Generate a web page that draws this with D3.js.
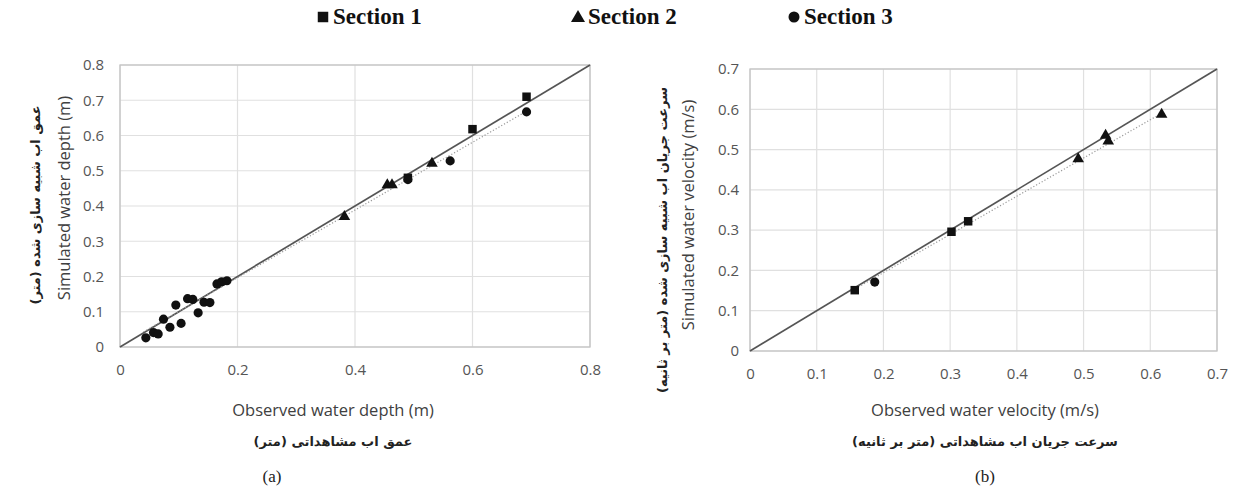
<!DOCTYPE html>
<html>
<head>
<meta charset="utf-8">
<script src="https://cdn.jsdelivr.net/npm/d3@7/dist/d3.min.js"></script>
<style>
  html, body { margin: 0; padding: 0; background: #fff; }
  svg { display: block; }
</style>
</head>
<body>
<svg id="chart" width="1235" height="493"></svg>
<script>
// ---------- DATA ----------
const legendLabels = ["Section 1", "Section 2", "Section 3"];

// (a) water depth (m): observed / simulated
const depthObs1 = [0.490, 0.600, 0.692];
const depthSim1 = [0.480, 0.618, 0.710];
const depthObs2 = [0.382, 0.455, 0.463, 0.531];
const depthSim2 = [0.370, 0.460, 0.460, 0.521];
const depthObs3 = [0.044, 0.057, 0.065, 0.074, 0.085, 0.095, 0.104, 0.115, 0.124, 0.133, 0.143, 0.153, 0.165, 0.173, 0.182, 0.490, 0.562, 0.692];
const depthSim3 = [0.026, 0.041, 0.037, 0.079, 0.056, 0.119, 0.067, 0.137, 0.135, 0.097, 0.127, 0.126, 0.179, 0.185, 0.188, 0.475, 0.528, 0.667];
const depthTrendObs = [0.04, 0.69];
const depthTrendSim = [0.043, 0.667];
const depthTicks = [0, 0.2, 0.4, 0.6, 0.8];
const depthYTicks = [0, 0.1, 0.2, 0.3, 0.4, 0.5, 0.6, 0.7, 0.8];

// (b) water velocity (m/s): observed / simulated
const velObs1 = [0.157, 0.302, 0.327];
const velSim1 = [0.151, 0.296, 0.322];
const velObs2 = [0.492, 0.533, 0.537, 0.617];
const velSim2 = [0.477, 0.535, 0.521, 0.587];
const velObs3 = [0.187];
const velSim3 = [0.171];
const velTrendObs = [0.15, 0.62];
const velTrendSim = [0.147, 0.593];
const velTicks = [0, 0.1, 0.2, 0.3, 0.4, 0.5, 0.6, 0.7];

// ---------- DRAWING ----------
const svg = d3.select("#chart");
const tickFont = "'Open Sans', sans-serif";
const faFont = "'DejaVu Sans', sans-serif";

function zip(a, b) { return a.map((v, i) => [v, b[i]]); }

function drawPanel(cfg) {
  const x = d3.scaleLinear().domain(cfg.domain).range([cfg.left, cfg.right]);
  const y = d3.scaleLinear().domain(cfg.domain).range([cfg.bottom, cfg.top]);
  const g = svg.append("g");

  // gridlines
  g.append("g").selectAll("line").data(cfg.xTicks).join("line")
    .attr("x1", d => x(d)).attr("x2", d => x(d))
    .attr("y1", cfg.top).attr("y2", cfg.bottom)
    .attr("stroke", "#e0e0e0").attr("stroke-width", 1.2);
  g.append("g").selectAll("line").data(cfg.yTicks).join("line")
    .attr("x1", cfg.left).attr("x2", cfg.right)
    .attr("y1", d => y(d)).attr("y2", d => y(d))
    .attr("stroke", "#e0e0e0").attr("stroke-width", 1.2);
  // frame
  g.append("rect").attr("x", cfg.left).attr("y", cfg.top)
    .attr("width", cfg.right - cfg.left).attr("height", cfg.bottom - cfg.top)
    .attr("fill", "none").attr("stroke", "#c4c4c4").attr("stroke-width", 1.3);

  // axes (labels only)
  const xAxis = d3.axisBottom(x).tickValues(cfg.xTicks).tickFormat(d3.format("~g")).tickSize(0).tickPadding(cfg.xPad);
  const yAxis = d3.axisLeft(y).tickValues(cfg.yTicks).tickFormat(d3.format("~g")).tickSize(0).tickPadding(cfg.yPad);
  const xa = g.append("g").attr("transform", `translate(0,${cfg.bottom})`).call(xAxis);
  const ya = g.append("g").attr("transform", `translate(${cfg.left},0)`).call(yAxis);
  [xa, ya].forEach(a => {
    a.select(".domain").remove();
    a.selectAll("text").attr("font-family", tickFont).attr("font-size", 15).attr("fill", "#555");
  });

  // 1:1 line
  g.append("line")
    .attr("x1", x(cfg.domain[0])).attr("y1", y(cfg.domain[0]))
    .attr("x2", x(cfg.domain[1])).attr("y2", y(cfg.domain[1]))
    .attr("stroke", "#555").attr("stroke-width", 1.7);
  // trend line (dotted)
  const tl = zip(cfg.trendObs, cfg.trendSim);
  g.append("line")
    .attr("x1", x(tl[0][0])).attr("y1", y(tl[0][1]))
    .attr("x2", x(tl[1][0])).attr("y2", y(tl[1][1]))
    .attr("stroke", "#9a9a9a").attr("stroke-width", 1.2).attr("stroke-dasharray", "1.2,2");

  // points
  const series = [
    { pts: zip(cfg.obs1, cfg.sim1), type: d3.symbolSquare, size: 72 },
    { pts: zip(cfg.obs2, cfg.sim2), type: d3.symbolTriangle, size: 58 },
    { pts: zip(cfg.obs3, cfg.sim3), type: d3.symbolCircle, size: 66 }
  ];
  series.forEach(s => {
    g.append("g").selectAll("path").data(s.pts).join("path")
      .attr("d", d3.symbol().type(s.type).size(s.size))
      .attr("transform", d => `translate(${x(d[0])},${y(d[1])})`)
      .attr("fill", "#111");
  });

  // axis titles
  g.append("text").attr("x", cfg.xTitleX).attr("y", cfg.xTitleY)
    .attr("text-anchor", "middle").attr("font-family", tickFont).attr("font-size", 16.5)
    .attr("fill", "#404040").text(cfg.xTitle);
  g.append("text").attr("x", cfg.xTitleX).attr("y", cfg.xTitleY + 30)
    .attr("text-anchor", "middle").attr("font-family", faFont).attr("font-size", 13)
    .attr("font-weight", "bold").attr("fill", "#222").attr("direction", "rtl")
    .text(cfg.xTitleFa);
  g.append("text").attr("transform", `translate(${cfg.yTitleX},${cfg.yTitleY}) rotate(-90)`)
    .attr("text-anchor", "middle").attr("font-family", tickFont).attr("font-size", 16.5)
    .attr("fill", "#404040").text(cfg.yTitle);
  g.append("text").attr("transform", `translate(${cfg.yTitleFaX},${cfg.yTitleFaY}) rotate(-90)`)
    .attr("text-anchor", "middle").attr("font-family", faFont).attr("font-size", 13)
    .attr("font-weight", "bold").attr("fill", "#222").attr("direction", "rtl")
    .text(cfg.yTitleFa);
  // panel letter
  g.append("text").attr("x", cfg.letterX).attr("y", 482)
    .attr("text-anchor", "middle").attr("font-family", "'Liberation Serif', serif").attr("font-size", 17)
    .attr("fill", "#222").text(cfg.letter);
}

drawPanel({
  domain: [0, 0.8], left: 120, right: 590, top: 65, bottom: 347,
  xTicks: depthTicks, yTicks: depthYTicks, xPad: 17, yPad: 16,
  obs1: depthObs1, sim1: depthSim1, obs2: depthObs2, sim2: depthSim2, obs3: depthObs3, sim3: depthSim3,
  trendObs: depthTrendObs, trendSim: depthTrendSim,
  xTitle: "Observed water depth (m)", xTitleFa: "عمق اب مشاهداتی (متر)",
  xTitleX: 333, xTitleY: 416,
  yTitle: "Simulated water depth (m)", yTitleFa: "عمق اب شبیه سازی شده (متر)",
  yTitleX: 70, yTitleY: 198, yTitleFaX: 40, yTitleFaY: 205,
  letter: "(a)", letterX: 272
});

drawPanel({
  domain: [0, 0.7], left: 750, right: 1217, top: 69, bottom: 351,
  xTicks: velTicks, yTicks: velTicks, xPad: 17, yPad: 11,
  obs1: velObs1, sim1: velSim1, obs2: velObs2, sim2: velSim2, obs3: velObs3, sim3: velSim3,
  trendObs: velTrendObs, trendSim: velTrendSim,
  xTitle: "Observed water velocity (m/s)", xTitleFa: "سرعت جریان اب مشاهداتی (متر بر ثانیه)",
  xTitleX: 985, xTitleY: 416,
  yTitle: "Simulated water velocity (m/s)", yTitleFa: "سرعت جریان اب شبیه سازی شده (متر بر ثانیه)",
  yTitleX: 694, yTitleY: 215, yTitleFaX: 667, yTitleFaY: 240,
  letter: "(b)", letterX: 985
});

// ---------- LEGEND ----------
const legendX = [323, 578, 794];
const legendTypes = [d3.symbolSquare, d3.symbolTriangle, d3.symbolCircle];
const legendSizes = [110, 85, 95];
const lg = svg.append("g");
legendLabels.forEach((lab, i) => {
  lg.append("path").attr("d", d3.symbol().type(legendTypes[i]).size(legendSizes[i]))
    .attr("transform", `translate(${legendX[i]},${i === 1 ? 18 : 17})`).attr("fill", "#111");
  lg.append("text").attr("x", legendX[i] + 10).attr("y", 24)
    .attr("font-family", "'Liberation Serif', serif").attr("font-weight", "bold")
    .attr("font-size", 23).attr("fill", "#111").text(lab);
});
</script>
</body>
</html>
